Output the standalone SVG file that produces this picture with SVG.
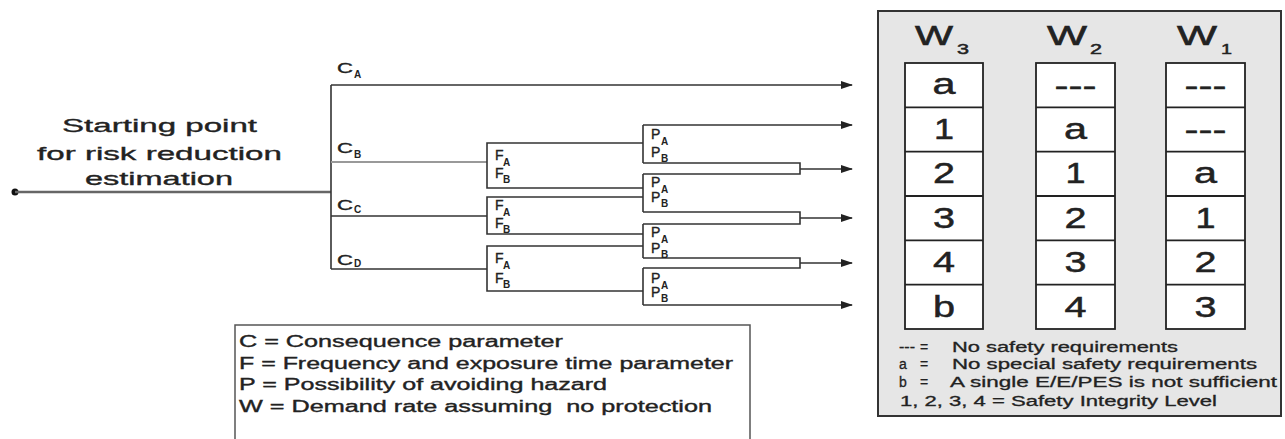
<svg xmlns="http://www.w3.org/2000/svg" width="1285" height="439" viewBox="0 0 1285 439">
<defs>
<marker id="arr" markerWidth="12" markerHeight="8" refX="11" refY="4" orient="auto" markerUnits="userSpaceOnUse">
<path d="M0,0 L12,4 L0,8 Z" fill="#222"/>
</marker>
<style>
text{font-family:"Liberation Sans",Arial,sans-serif;fill:#222;stroke:#222;stroke-width:0.35}
.ln{stroke:#333;stroke-width:1.6;fill:none}
.big{font-size:19px}
.lab{font-size:14px}
.sub{font-size:10px;font-weight:bold;stroke-width:0}
.cell{fill:#fff;stroke:#222;stroke-width:1.8}
.cv{font-size:30px;text-anchor:middle;stroke-width:0.5}
.wh{font-size:27px;stroke-width:0.6}
.ws{font-size:15px;stroke-width:0.5}
.lg{font-size:16px}
.rl{font-size:14px;stroke-width:0.3}
</style>
</defs>
<rect width="1285" height="439" fill="#fff"/>

<g id="start">
<circle cx="15" cy="192" r="3.5" fill="#111"/>
<text class="big" x="62" y="132" textLength="195" lengthAdjust="spacingAndGlyphs">Starting point</text>
<text class="big" x="37" y="160" textLength="245" lengthAdjust="spacingAndGlyphs">for risk reduction</text>
<text class="big" x="85" y="185" textLength="148" lengthAdjust="spacingAndGlyphs">estimation</text>
</g>

<g id="connectors">
<line x1="15" y1="192" x2="331" y2="192" stroke="#666" stroke-width="2.6"/>
<line class="ln" x1="331" y1="85" x2="331" y2="269"/>
<line class="ln" x1="331" y1="85" x2="852" y2="85" marker-end="url(#arr)"/>
<line x1="331" y1="162" x2="487" y2="162" stroke="#999" stroke-width="1.8"/>
<line class="ln" x1="331" y1="216" x2="487" y2="216"/>
<line class="ln" x1="331" y1="269" x2="487" y2="269"/>
<path class="ln" d="M643,143 H487 V188 H643"/>
<path class="ln" d="M643,197 H487 V234 H643"/>
<path class="ln" d="M643,246 H487 V291 H643"/>
<line class="ln" x1="643" y1="125" x2="643" y2="163"/>
<line class="ln" x1="643" y1="174" x2="643" y2="212"/>
<line class="ln" x1="643" y1="224" x2="643" y2="258"/>
<line class="ln" x1="643" y1="268" x2="643" y2="305"/>
<line class="ln" x1="643" y1="125" x2="852" y2="125" marker-end="url(#arr)"/>
<path class="ln" d="M643,163 H800 V174 H643"/>
<path class="ln" d="M643,212 H800 V224 H643"/>
<path class="ln" d="M643,258 H800 V268 H643"/>
<line class="ln" x1="800" y1="169" x2="852" y2="169" marker-end="url(#arr)"/>
<line class="ln" x1="800" y1="218" x2="852" y2="218" marker-end="url(#arr)"/>
<line class="ln" x1="800" y1="263" x2="852" y2="263" marker-end="url(#arr)"/>
<line class="ln" x1="643" y1="305" x2="852" y2="305" marker-end="url(#arr)"/>
</g>

<g id="c-labels">
<text class="lab" x="337" y="73" textLength="16" lengthAdjust="spacingAndGlyphs">C</text><text class="sub" x="354" y="78">A</text>
<text class="lab" x="337" y="153" textLength="16" lengthAdjust="spacingAndGlyphs">C</text><text class="sub" x="354" y="158">B</text>
<text class="lab" x="337" y="210" textLength="16" lengthAdjust="spacingAndGlyphs">C</text><text class="sub" x="354" y="213">C</text>
<text class="lab" x="337" y="265" textLength="16" lengthAdjust="spacingAndGlyphs">C</text><text class="sub" x="354" y="267">D</text>
</g>

<g id="f-labels">
<text class="lab" x="495" y="160">F</text><text class="sub" x="503" y="166">A</text>
<text class="lab" x="495" y="178">F</text><text class="sub" x="503" y="183">B</text>
<text class="lab" x="495" y="210">F</text><text class="sub" x="503" y="216">A</text>
<text class="lab" x="495" y="228">F</text><text class="sub" x="503" y="233">B</text>
<text class="lab" x="495" y="263">F</text><text class="sub" x="503" y="269">A</text>
<text class="lab" x="495" y="283">F</text><text class="sub" x="503" y="288">B</text>
</g>

<g id="p-labels">
<text class="lab" x="651" y="139">P</text><text class="sub" x="661" y="145">A</text>
<text class="lab" x="651" y="157">P</text><text class="sub" x="661" y="162">B</text>
<text class="lab" x="651" y="187">P</text><text class="sub" x="661" y="193">A</text>
<text class="lab" x="651" y="202">P</text><text class="sub" x="661" y="207">B</text>
<text class="lab" x="651" y="237">P</text><text class="sub" x="661" y="243">A</text>
<text class="lab" x="651" y="253">P</text><text class="sub" x="661" y="258">B</text>
<text class="lab" x="651" y="283">P</text><text class="sub" x="661" y="289">A</text>
<text class="lab" x="651" y="297">P</text><text class="sub" x="661" y="302">B</text>
</g>

<g id="legend-left">
<rect x="235" y="325" width="515" height="125" fill="#fff" stroke="#555" stroke-width="1.5"/>
<text class="lg" x="239" y="347" textLength="324" lengthAdjust="spacingAndGlyphs">C = Consequence parameter</text>
<text class="lg" x="239" y="369" textLength="494" lengthAdjust="spacingAndGlyphs">F = Frequency and exposure time parameter</text>
<text class="lg" x="239" y="390" textLength="368" lengthAdjust="spacingAndGlyphs">P = Possibility of avoiding hazard</text>
<text class="lg" x="239" y="412" textLength="473" lengthAdjust="spacingAndGlyphs" xml:space="preserve">W = Demand rate assuming  no protection</text>
</g>

<g id="w-table">
<rect x="878" y="11" width="403" height="405" fill="#e6e6e6" stroke="#333" stroke-width="2"/>
<text class="wh" x="915" y="45" textLength="38" lengthAdjust="spacingAndGlyphs">W</text><text class="ws" x="957" y="54" textLength="12" lengthAdjust="spacingAndGlyphs">3</text>
<text class="wh" x="1047" y="45" textLength="40" lengthAdjust="spacingAndGlyphs">W</text><text class="ws" x="1090" y="54" textLength="12" lengthAdjust="spacingAndGlyphs">2</text>
<text class="wh" x="1177" y="45" textLength="40" lengthAdjust="spacingAndGlyphs">W</text><text class="ws" x="1221" y="54" textLength="11" lengthAdjust="spacingAndGlyphs">1</text>

<g id="col-w3">
<rect class="cell" x="905" y="63" width="78" height="266"/>
<path d="M905,107.3H983M905,151.7H983M905,196H983M905,240.3H983M905,284.7H983" stroke="#222" stroke-width="1.8"/>
<text class="cv" x="944" y="94" textLength="23" lengthAdjust="spacingAndGlyphs">a</text>
<text class="cv" x="944" y="139" textLength="20" lengthAdjust="spacingAndGlyphs">1</text>
<text class="cv" x="944" y="183" textLength="22" lengthAdjust="spacingAndGlyphs">2</text>
<text class="cv" x="944" y="228" textLength="22" lengthAdjust="spacingAndGlyphs">3</text>
<text class="cv" x="944" y="272" textLength="22" lengthAdjust="spacingAndGlyphs">4</text>
<text class="cv" x="944" y="317" textLength="22" lengthAdjust="spacingAndGlyphs">b</text>
</g>
<g id="col-w2">
<rect class="cell" x="1036" y="63" width="79" height="266"/>
<path d="M1036,107.3H1115M1036,151.7H1115M1036,196H1115M1036,240.3H1115M1036,284.7H1115" stroke="#222" stroke-width="1.8"/>
<text class="cv" x="1075.5" y="96" textLength="42" lengthAdjust="spacingAndGlyphs">---</text>
<text class="cv" x="1075.5" y="139" textLength="23" lengthAdjust="spacingAndGlyphs">a</text>
<text class="cv" x="1075.5" y="183" textLength="20" lengthAdjust="spacingAndGlyphs">1</text>
<text class="cv" x="1075.5" y="228" textLength="22" lengthAdjust="spacingAndGlyphs">2</text>
<text class="cv" x="1075.5" y="272" textLength="22" lengthAdjust="spacingAndGlyphs">3</text>
<text class="cv" x="1075.5" y="317" textLength="22" lengthAdjust="spacingAndGlyphs">4</text>
</g>
<g id="col-w1">
<rect class="cell" x="1166" y="63" width="79" height="266"/>
<path d="M1166,107.3H1245M1166,151.7H1245M1166,196H1245M1166,240.3H1245M1166,284.7H1245" stroke="#222" stroke-width="1.8"/>
<text class="cv" x="1205.5" y="96" textLength="42" lengthAdjust="spacingAndGlyphs">---</text>
<text class="cv" x="1205.5" y="140" textLength="42" lengthAdjust="spacingAndGlyphs">---</text>
<text class="cv" x="1205.5" y="183" textLength="23" lengthAdjust="spacingAndGlyphs">a</text>
<text class="cv" x="1205.5" y="228" textLength="20" lengthAdjust="spacingAndGlyphs">1</text>
<text class="cv" x="1205.5" y="272" textLength="22" lengthAdjust="spacingAndGlyphs">2</text>
<text class="cv" x="1205.5" y="317" textLength="22" lengthAdjust="spacingAndGlyphs">3</text>
</g>

<g id="legend-right">
<text class="rl" x="899" y="352" textLength="16" lengthAdjust="spacingAndGlyphs">---</text>
<text class="rl" x="920" y="352">=</text>
<text class="rl" x="952" y="352" textLength="226" lengthAdjust="spacingAndGlyphs">No safety requirements</text>
<text class="rl" x="899" y="369">a</text>
<text class="rl" x="920" y="369">=</text>
<text class="rl" x="952" y="369" textLength="305" lengthAdjust="spacingAndGlyphs">No special safety requirements</text>
<text class="rl" x="899" y="387">b</text>
<text class="rl" x="920" y="387">=</text>
<text class="rl" x="950" y="387" textLength="327" lengthAdjust="spacingAndGlyphs">A single E/E/PES is not sufficient</text>
<text class="rl" x="900" y="406" textLength="317" lengthAdjust="spacingAndGlyphs">1, 2, 3, 4 = Safety Integrity Level</text>
</g>
</g>
</svg>
